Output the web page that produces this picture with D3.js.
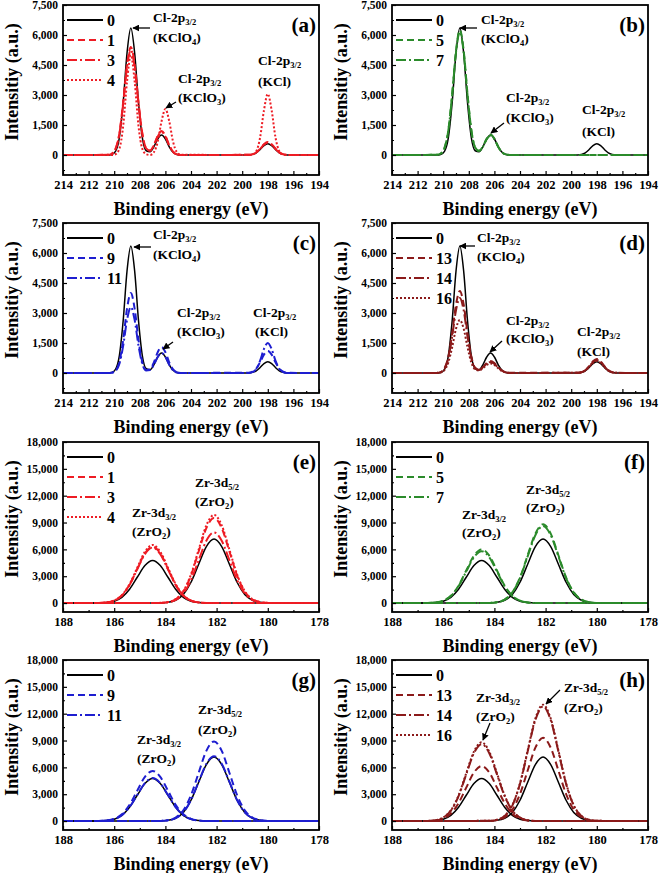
<!DOCTYPE html>
<html>
<head>
<meta charset="utf-8">
<script src="https://cdn.jsdelivr.net/npm/d3@7"></script>
<style>
  body { margin: 0; background: #fff; }
  svg text { font-family: "Liberation Serif", "Times New Roman", serif; font-weight: bold; fill: #000; }
</style>
</head>
<body>
<svg id="chart" width="659" height="873"></svg>
<script>
// ---- Cl-2p spectra, binding energy grid (eV) and intensities ----
const clEnergy = [214, 210.5, 210.2, 209.9, 209.6, 209.3, 209.0, 208.7, 208.4, 208.1, 207.8, 207.5, 207.2, 206.9, 206.6, 206.3, 206.0, 205.7, 205.4, 205.1, 204.8, 199.5, 199.2, 198.9, 198.6, 198.3, 198.0, 197.7, 197.4, 197.1, 196.8, 196.5, 194]
const cl0  = [0, 0, 25, 184, 857, 2610, 5086, 6350, 5086, 2610, 857, 213, 160, 411, 801, 1000, 801, 411, 135, 29, 4, 6, 31, 111, 273, 468, 560, 468, 273, 111, 31, 6, 0]
const cl1  = [0, 8, 59, 302, 1069, 2630, 4509, 5400, 4509, 2630, 1069, 337, 221, 501, 961, 1200, 961, 493, 162, 35, 5, 7, 36, 129, 317, 543, 650, 543, 317, 129, 36, 7, 0]
const cl3  = [0, 8, 58, 294, 1040, 2557, 4384, 5250, 4384, 2557, 1040, 327, 213, 481, 921, 1150, 921, 473, 155, 33, 5, 7, 35, 123, 302, 518, 620, 518, 302, 123, 35, 7, 0]
const cl4  = [0, 0, 0, 35, 305, 1440, 3665, 5000, 3665, 1440, 305, 35, 0, 140, 662, 1686, 2300, 1686, 662, 140, 16, 0, 21, 186, 878, 2236, 3050, 2236, 878, 186, 21, 0, 0]
const cl5  = [0, 9, 69, 350, 1238, 3044, 5219, 6250, 5219, 3044, 1238, 380, 207, 428, 817, 1020, 817, 419, 138, 30, 4, 0, 0, 0, 0, 0, 0, 0, 0, 0, 0, 0, 0]
const cl7  = [0, 9, 68, 344, 1218, 2995, 5135, 6150, 5135, 2995, 1218, 372, 200, 412, 785, 980, 785, 403, 132, 28, 4, 0, 0, 0, 0, 0, 0, 0, 0, 0, 0, 0, 0]
const cl9  = [0, 0, 16, 116, 540, 1644, 3204, 4000, 3204, 1644, 540, 154, 192, 534, 1041, 1300, 1041, 534, 176, 38, 5, 12, 62, 218, 536, 919, 1100, 919, 536, 218, 62, 12, 0]
const cl11 = [0, 0, 13, 96, 446, 1356, 2643, 3300, 2643, 1356, 446, 125, 148, 411, 801, 1000, 801, 411, 135, 29, 4, 6, 44, 203, 617, 1202, 1500, 1202, 617, 203, 44, 6, 0]
const cl13 = [0, 6, 45, 230, 812, 1997, 3424, 4100, 3424, 1997, 812, 264, 164, 298, 501, 600, 501, 292, 119, 34, 7, 8, 39, 139, 341, 585, 700, 585, 341, 139, 39, 8, 0]
const cl14 = [0, 6, 41, 210, 743, 1826, 3131, 3750, 3131, 1826, 743, 241, 150, 274, 459, 550, 459, 268, 109, 31, 6, 7, 36, 129, 317, 543, 650, 543, 317, 129, 36, 7, 0]
const cl16 = [0, 4, 29, 148, 525, 1291, 2213, 2650, 2213, 1291, 525, 175, 124, 238, 401, 480, 401, 234, 95, 27, 5, 7, 34, 119, 292, 501, 600, 501, 292, 119, 34, 7, 0]

// ---- Zr-3d spectra: two fitted components per sample (3d3/2 = A, 3d5/2 = B) ----
const zrEnergyA = [188, 186.6, 186.3, 186.0, 185.7, 185.4, 185.1, 184.8, 184.5, 184.2, 183.9, 183.6, 183.3, 183.0, 182.7, 182.4, 178]
const zrEnergyB = [188, 184.2, 183.9, 183.6, 183.3, 183.0, 182.7, 182.4, 182.1, 181.8, 181.5, 181.2, 180.9, 180.6, 180.3, 180.0, 178]
const zrA0  = [0, 10, 52, 209, 641, 1544, 2883, 4190, 4750, 4190, 2883, 1544, 641, 209, 52, 10, 0]
const zrB0  = [0, 14, 79, 315, 965, 2324, 4340, 6306, 7150, 6306, 4340, 2324, 965, 315, 79, 14, 0]
const zrA1  = [0, 13, 69, 277, 851, 2048, 3824, 5557, 6300, 5557, 3824, 2048, 851, 277, 69, 13, 0]
const zrB1  = [0, 19, 105, 418, 1283, 3088, 5767, 8379, 9500, 8379, 5767, 3088, 1283, 418, 105, 19, 0]
const zrA3  = [0, 12, 68, 273, 837, 2015, 3763, 5468, 6200, 5468, 3763, 2015, 837, 273, 68, 12, 0]
const zrB3  = [0, 16, 87, 348, 1067, 2568, 4795, 6968, 7900, 6968, 4795, 2568, 1067, 348, 87, 16, 0]
const zrA4  = [0, 13, 72, 286, 878, 2113, 3946, 5733, 6500, 5733, 3946, 2113, 878, 286, 72, 13, 0]
const zrB4  = [0, 20, 108, 433, 1330, 3201, 5979, 8688, 9850, 8688, 5979, 3201, 1330, 433, 108, 20, 0]
const zrA5  = [0, 12, 66, 264, 810, 1950, 3642, 5292, 6000, 5292, 3642, 1950, 810, 264, 66, 12, 0]
const zrB5  = [0, 18, 97, 387, 1188, 2860, 5342, 7762, 8800, 7762, 5342, 2860, 1188, 387, 97, 18, 0]
const zrA7  = [0, 12, 64, 255, 783, 1885, 3521, 5116, 5800, 5116, 3521, 1885, 783, 255, 64, 12, 0]
const zrB7  = [0, 17, 95, 378, 1161, 2795, 5220, 7585, 8600, 7585, 5220, 2795, 1161, 378, 95, 17, 0]
const zrA9  = [0, 11, 62, 246, 756, 1820, 3399, 4939, 5600, 4939, 3399, 1820, 756, 246, 62, 11, 0]
const zrB9  = [0, 18, 98, 392, 1202, 2893, 5402, 7850, 8900, 7850, 5402, 2893, 1202, 392, 98, 18, 0]
const zrA11 = [0, 10, 53, 211, 648, 1560, 2914, 4234, 4800, 4234, 2914, 1560, 648, 211, 53, 10, 0]
const zrB11 = [0, 15, 80, 319, 979, 2356, 4401, 6395, 7250, 6395, 4401, 2356, 979, 319, 80, 15, 0]
const zrA13 = [0, 12, 68, 271, 830, 1999, 3733, 5424, 6150, 5424, 3733, 1999, 830, 271, 68, 12, 0]
const zrB13 = [0, 19, 102, 409, 1256, 3023, 5645, 8203, 9300, 8203, 5645, 3023, 1256, 409, 102, 19, 0]
const zrA14 = [0, 17, 95, 378, 1161, 2795, 5220, 7585, 8600, 7585, 5220, 2795, 1161, 378, 95, 17, 0]
const zrB14 = [0, 26, 141, 563, 1728, 4160, 7770, 11290, 12800, 11290, 7770, 4160, 1728, 563, 141, 26, 0]
const zrA16 = [0, 18, 97, 387, 1188, 2860, 5342, 7762, 8800, 7762, 5342, 2860, 1188, 387, 97, 18, 0]
const zrB16 = [0, 26, 143, 572, 1755, 4225, 7891, 11466, 13000, 11466, 7891, 4225, 1755, 572, 143, 26, 0]

// ---- ticks ----
const clTicksX = [214, 212, 210, 208, 206, 204, 202, 200, 198, 196, 194]
const clTicksY = [0, 1500, 3000, 4500, 6000, 7500]
const zrTicksX = [188, 186, 184, 182, 180, 178]
const zrTicksY = [0, 3000, 6000, 9000, 12000, 15000, 18000]

const RED = '#ee1c24', GREEN = '#2b8b2b', BLUE = '#1e1ed0', MAROON = '#8b1a1a'

// label pieces: [text, isSubscript]
const CL = [['Cl-2p'], ['3/2', 1]]
const KCLO4 = [['(KClO'], ['4', 1], [')']]
const KCLO3 = [['(KClO'], ['3', 1], [')']]
const KCL = [['(KCl)']]
const ZR32 = [['Zr-3d'], ['3/2', 1]]
const ZR52 = [['Zr-3d'], ['5/2', 1]]
const ZRO2 = [['(ZrO'], ['2', 1], [')']]

const panels = [
  {tag: '(a)', col: 0, row: 0, kind: 'cl', color: RED, names: ['0', '1', '3', '4'], data: [cl0, cl1, cl3, cl4],
    notes: [[90, 17, CL], [90, 37, KCLO4], [115, 78, CL], [115, 97, KCLO3], [195, 60, CL], [195, 81, KCL]],
    arrows: [[87, 23, 70, 23], [113, 97, 103, 103]]},
  {tag: '(b)', col: 1, row: 0, kind: 'cl', color: GREEN, names: ['0', '5', '7'], data: [cl0, cl5, cl7],
    notes: [[89, 19, CL], [89, 38, KCLO4], [114, 97, CL], [114, 117, KCLO3], [190, 109, CL], [190, 131, KCL]],
    arrows: [[85, 23, 68, 23], [112, 118, 99, 128]]},
  {tag: '(c)', col: 0, row: 1, kind: 'cl', color: BLUE, names: ['0', '9', '11'], data: [cl0, cl9, cl11],
    notes: [[90, 16, CL], [90, 36, KCLO4], [114, 94, CL], [114, 113, KCLO3], [190, 94, CL], [192, 113, KCL]],
    arrows: [[88, 24, 71, 24], [110, 119, 100, 126]]},
  {tag: '(d)', col: 1, row: 1, kind: 'cl', color: MAROON, names: ['0', '13', '14', '16'], data: [cl0, cl13, cl14, cl16],
    notes: [[85, 19, CL], [85, 38, KCLO4], [114, 102, CL], [114, 120, KCLO3], [185, 113, CL], [185, 133, KCL]],
    arrows: [[83, 23, 68, 23], [110, 118, 98, 129]]},
  {tag: '(e)', col: 0, row: 2, kind: 'zr', color: RED, names: ['0', '1', '3', '4'],
    data: [[zrA0, zrB0], [zrA1, zrB1], [zrA3, zrB3], [zrA4, zrB4]],
    notes: [[69, 75, ZR32], [69, 94, ZRO2], [132, 45, ZR52], [132, 64, ZRO2]], arrows: []},
  {tag: '(f)', col: 1, row: 2, kind: 'zr', color: GREEN, names: ['0', '5', '7'],
    data: [[zrA0, zrB0], [zrA5, zrB5], [zrA7, zrB7]],
    notes: [[70, 77, ZR32], [70, 95, ZRO2], [134, 52, ZR52], [134, 70, ZRO2]], arrows: []},
  {tag: '(g)', col: 0, row: 3, kind: 'zr', color: BLUE, names: ['0', '9', '11'],
    data: [[zrA0, zrB0], [zrA9, zrB9], [zrA11, zrB11]],
    notes: [[74, 84, ZR32], [74, 103, ZRO2], [135, 54, ZR52], [135, 74, ZRO2]], arrows: []},
  {tag: '(h)', col: 1, row: 3, kind: 'zr', color: MAROON, names: ['0', '13', '14', '16'],
    data: [[zrA0, zrB0], [zrA13, zrB13], [zrA14, zrB14], [zrA16, zrB16]],
    notes: [[84, 42, ZR32], [84, 61, ZRO2], [172, 32, ZR52], [172, 52, ZRO2]],
    arrows: [[98, 63, 91, 80], [168, 30, 154, 44]]}
]

// line style by position in the legend: solid, dash, dash-dot, dot
const dashes = [null, '7,4', '10,3,2,3', '2,2']

const colX = [63, 392], rowY = [5, 223, 442, 660]
const W = 256, H = 170

const svg = d3.select('#chart')
svg.append('defs').append('marker')
    .attr('id', 'arrow').attr('viewBox', '0 0 10 10').attr('refX', 9).attr('refY', 5)
    .attr('markerWidth', 7).attr('markerHeight', 7).attr('markerUnits', 'userSpaceOnUse')
    .attr('orient', 'auto')
  .append('path').attr('d', 'M0,0 L10,5 L0,10 z').attr('fill', '#000')

panels.forEach((p, pi) => {
    const x0 = colX[p.col], top = rowY[p.row]
    const isCl = p.kind === 'cl'
    const x = d3.scaleLinear().domain(isCl ? [214, 194] : [188, 178]).range([x0, x0 + W])
    const y = d3.scaleLinear().domain(isCl ? [-1000, 7500] : [-1000, 18000]).range([top + H, top])
    const g = svg.append('g')

    // clip
    g.append('clipPath').attr('id', 'clip' + pi)
      .append('rect').attr('x', x0).attr('y', top).attr('width', W).attr('height', H)

    // curves
    const plot = g.append('g').attr('clip-path', `url(#clip${pi})`)
    p.data.forEach((s, si) => {
        const col = si === 0 ? '#000' : p.color
        const comps = isCl ? [[clEnergy, s]] : [[zrEnergyA, s[0]], [zrEnergyB, s[1]]]
        comps.forEach(([ev, vals]) => {
            const line = d3.line()
                .x((d, i) => x(ev[i]))
                .y(d => y(d))
                .curve(d3.curveMonotoneX)
            plot.append('path')
                .attr('d', line(vals))
                .attr('fill', 'none')
                .attr('stroke', col)
                .attr('stroke-width', si === 0 ? 1.5 : 2)
                .attr('stroke-dasharray', dashes[si])
        })
    })

    // axes
    const ticksX = isCl ? clTicksX : zrTicksX
    const ticksY = isCl ? clTicksY : zrTicksY
    const minorX = d3.range(ticksX[ticksX.length - 1] + 1, ticksX[0], 2)
    const stepY = ticksY[1] - ticksY[0]
    const minorY = ticksY.map(t => t - stepY / 2).filter(t => t > -1000)

    const ax = g.append('g').attr('transform', `translate(0,${top + H})`)
        .call(d3.axisBottom(x).tickValues(ticksX).tickSize(-4).tickPadding(5).tickFormat(d3.format('d')))
    ax.select('.domain').remove()
    ax.selectAll('text').attr('font-size', 12.5)
    const axm = g.append('g').attr('transform', `translate(0,${top + H})`)
        .call(d3.axisBottom(x).tickValues(minorX).tickSize(-2).tickFormat(''))
    axm.select('.domain').remove()

    const ay = g.append('g').attr('transform', `translate(${x0},0)`)
        .call(d3.axisLeft(y).tickValues(ticksY).tickSize(-4).tickPadding(5).tickFormat(d3.format(',')))
    ay.select('.domain').remove()
    ay.selectAll('text').attr('font-size', 11.5)
    const aym = g.append('g').attr('transform', `translate(${x0},0)`)
        .call(d3.axisLeft(y).tickValues(minorY).tickSize(-2).tickFormat(''))
    aym.select('.domain').remove()
    g.selectAll('.tick line').attr('stroke', '#000').attr('stroke-width', 1.2)

    // frame
    g.append('rect').attr('x', x0).attr('y', top).attr('width', W).attr('height', H)
        .attr('fill', 'none').attr('stroke', '#000').attr('stroke-width', 1.8)

    // axis titles
    g.append('text').attr('x', x0 + W / 2).attr('y', top + H + 40)
        .attr('text-anchor', 'middle').attr('font-size', 18).text('Binding energy (eV)')
    g.append('text')
        .attr('transform', `translate(${x0 - 51},${top + 77}) rotate(-90)`)
        .attr('text-anchor', 'middle').attr('dominant-baseline', 'central')
        .attr('font-size', 18).text('Intensitiy (a.u.)')

    // panel tag
    g.append('text').attr('x', x0 + W - 3).attr('y', top + 27)
        .attr('text-anchor', 'end').attr('font-size', 21).text(p.tag)

    // legend
    p.names.forEach((n, si) => {
        const ly = top + 15 + 20 * si
        g.append('line').attr('x1', x0 + 4).attr('x2', x0 + 40).attr('y1', ly).attr('y2', ly)
            .attr('stroke', si === 0 ? '#000' : p.color)
            .attr('stroke-width', si === 0 ? 1.8 : 2.2)
            .attr('stroke-dasharray', dashes[si])
        g.append('text').attr('x', x0 + 44).attr('y', ly)
            .attr('dominant-baseline', 'central').attr('font-size', 16).text(n)
    })

    // peak annotations
    p.notes.forEach(([dx, dy, parts]) => {
        const t = g.append('text').attr('x', x0 + dx).attr('y', top + dy).attr('font-size', 13.5)
        let shifted = false
        parts.forEach(([s, sub]) => {
            const ts = t.append('tspan').text(s)
            if (sub) { ts.attr('font-size', 8.5).attr('dy', 3); shifted = true }
            else if (shifted) { ts.attr('dy', -3); shifted = false }
        })
    })
    p.arrows.forEach(([x1, y1, x2, y2]) => {
        g.append('line')
            .attr('x1', x0 + x1).attr('y1', top + y1).attr('x2', x0 + x2).attr('y2', top + y2)
            .attr('stroke', '#000').attr('stroke-width', 1.3).attr('marker-end', 'url(#arrow)')
    })
})
</script>
</body>
</html>
